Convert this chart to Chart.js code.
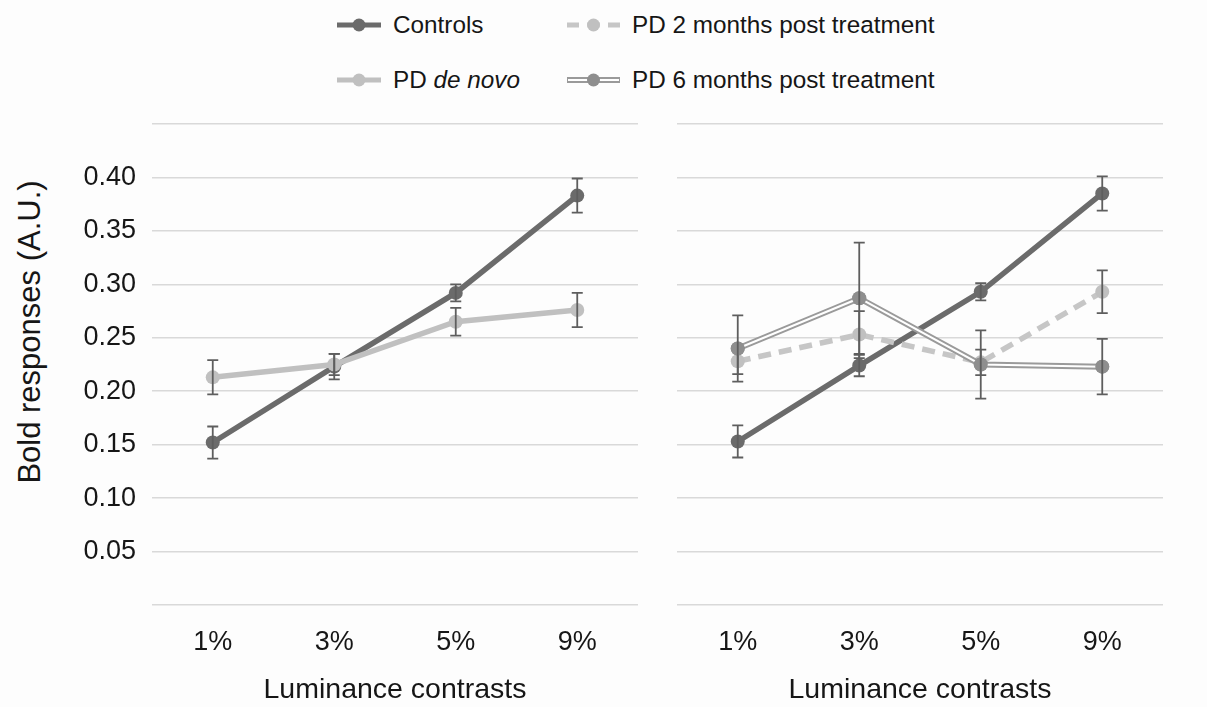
<!DOCTYPE html>
<html>
<head>
<meta charset="utf-8">
<script src="https://cdn.jsdelivr.net/npm/chart.js@4.4.0/dist/chart.umd.min.js"></script>
<style>
  html, body { margin: 0; padding: 0; background: #fdfdfd; }
  body { width: 1207px; height: 707px; position: relative; overflow: hidden;
         font-family: "Liberation Sans", Arial, sans-serif; color: #161616; }
  .box { position: absolute; }
  .legend-item { position: absolute; height: 30px; display: flex; align-items: center; font-size: 24.3px; white-space: nowrap; }
  .legend-item svg { display: block; }
  #ytitle { position: absolute; left: 30px; top: 332px; transform: translate(-50%, -50%) rotate(-90deg);
            font-size: 31px; white-space: nowrap; }
</style>
</head>
<body>

<div class="legend-item" style="left:337px; top:10px;">
  <svg width="44" height="16"><line x1="0" y1="8" x2="44" y2="8" stroke="#6b6b6b" stroke-width="5"/><circle cx="22" cy="8" r="6.5" fill="#6b6b6b"/></svg>
  <span style="margin-left:12px;">Controls</span>
</div>
<div class="legend-item" style="left:337px; top:65px;">
  <svg width="44" height="16"><line x1="0" y1="8" x2="44" y2="8" stroke="#c0c0c0" stroke-width="5"/><circle cx="22" cy="8" r="6.5" fill="#c0c0c0"/></svg>
  <span style="margin-left:12px;">PD <i>de novo</i></span>
</div>
<div class="legend-item" style="left:567px; top:10px;">
  <svg width="53" height="16"><line x1="0" y1="8" x2="53" y2="8" stroke="#c6c6c6" stroke-width="5" stroke-dasharray="12 8.5"/><circle cx="26.5" cy="8" r="6.5" fill="#c0c0c0"/></svg>
  <span style="margin-left:12px;">PD 2 months post treatment</span>
</div>
<div class="legend-item" style="left:567px; top:65px;">
  <svg width="53" height="16"><line x1="0" y1="8" x2="53" y2="8" stroke="#9a9a9a" stroke-width="6"/><line x1="1" y1="8" x2="52" y2="8" stroke="#ffffff" stroke-width="2"/><circle cx="26.5" cy="8" r="6.5" fill="#8e8e8e"/></svg>
  <span style="margin-left:12px;">PD 6 months post treatment</span>
</div>

<div id="ytitle">Bold responses (A.U.)</div>

<div class="box" style="left:0; top:100px; width:645px; height:607px;"><canvas id="left"></canvas></div>
<div class="box" style="left:645px; top:100px; width:562px; height:607px;"><canvas id="right"></canvas></div>

<script>
const categories = ['1%', '3%', '5%', '9%'];
const yTicks = [0.05, 0.10, 0.15, 0.20, 0.25, 0.30, 0.35, 0.40];

// left panel
const controlsLeft = [0.152, 0.223, 0.292, 0.383];
const controlsLeftErr = [0.015, 0.012, 0.008, 0.016];
const deNovo = [0.213, 0.225, 0.265, 0.276];
const deNovoErr = [0.016, 0.010, 0.013, 0.016];

// right panel
const controlsRight = [0.153, 0.224, 0.293, 0.385];
const controlsRightErr = [0.015, 0.010, 0.008, 0.016];
const pd2Months = [0.228, 0.253, 0.227, 0.293];
const pd2MonthsErr = [0.012, 0.022, 0.012, 0.020];
const pd6Months = [0.240, 0.287, 0.225, 0.223];
const pd6MonthsErr = [0.031, 0.052, 0.032, 0.026];

const FONT = '"Liberation Sans", Arial, sans-serif';
const TEXT = '#161616';
const DARK = '#6b6b6b';
const LIGHT = '#c0c0c0';
const MID = '#9a9a9a';

// error bars + redraw points that must sit on top of the white inner line
const ErrorBars = {
  id: 'errorBars',
  afterDatasetsDraw(chart) {
    const { ctx } = chart;
    const yScale = chart.scales.y;
    chart.data.datasets.forEach((ds, di) => {
      const meta = chart.getDatasetMeta(di);
      if (ds.redrawPoints) meta.data.forEach((pt) => pt.draw(ctx, chart.chartArea));
      if (!ds.errors) return;
      ctx.save();
      ctx.strokeStyle = '#5e5e5e';
      ctx.lineWidth = 1.8;
      meta.data.forEach((pt, i) => {
        const v = ds.data[i];
        const e = ds.errors[i];
        const top = yScale.getPixelForValue(v + e);
        const bot = yScale.getPixelForValue(v - e);
        ctx.beginPath();
        ctx.moveTo(pt.x, top); ctx.lineTo(pt.x, bot);
        ctx.moveTo(pt.x - 5.5, top); ctx.lineTo(pt.x + 5.5, top);
        ctx.moveTo(pt.x - 5.5, bot); ctx.lineTo(pt.x + 5.5, bot);
        ctx.stroke();
      });
      ctx.restore();
    });
  },
};

function series(data, errors, color, extra) {
  return Object.assign({
    data, errors,
    borderColor: color,
    backgroundColor: color,
    pointBackgroundColor: color,
    pointBorderWidth: 0,
    borderWidth: 5.5,
    pointRadius: 7,
    tension: 0,
  }, extra || {});
}

function makeOptions(showLabels, yWidth, rightPad) {
  return {
    responsive: true,
    maintainAspectRatio: false,
    animation: false,
    layout: { padding: { top: 24, right: rightPad, left: 0, bottom: 0 } },
    plugins: { legend: { display: false }, tooltip: { enabled: false } },
    scales: {
      x: {
        type: 'category',
        offset: true,
        grid: { display: false, drawTicks: false },
        border: { display: false },
        ticks: { font: { family: FONT, size: 27 }, color: TEXT, padding: 21 },
        title: { display: true, text: 'Luminance contrasts', color: TEXT,
                 font: { family: FONT, size: 28.5 }, padding: { top: 0, bottom: 0 } },
        afterFit(s) { s.height = 102; s.paddingLeft = 0; s.paddingRight = 0; },
      },
      y: {
        min: 0,
        max: 0.45,
        afterBuildTicks(s) {
          s.ticks = [0].concat(yTicks, [0.45]).map((v) => ({ value: v }));
        },
        ticks: {
          display: showLabels,
          font: { family: FONT, size: 27 },
          color: TEXT,
          padding: 16,
          callback: (v) => (yTicks.some((t) => Math.abs(t - v) < 1e-6) ? v.toFixed(2) : ''),
        },
        grid: { color: '#d9d9d9', lineWidth: 1.6, drawTicks: false },
        border: { display: false },
        afterFit(s) { s.width = yWidth; s.paddingTop = 0; s.paddingBottom = 0; },
      },
    },
  };
}

new Chart(document.getElementById('left'), {
  type: 'line',
  data: {
    labels: categories,
    datasets: [
      series(deNovo, deNovoErr, LIGHT),
      series(controlsLeft, controlsLeftErr, DARK),
    ],
  },
  options: makeOptions(true, 152, 7),
  plugins: [ErrorBars],
});

// lower "order" is drawn on top
new Chart(document.getElementById('right'), {
  type: 'line',
  data: {
    labels: categories,
    datasets: [
      series(controlsRight, controlsRightErr, DARK, { order: 3 }),
      series(pd2Months, pd2MonthsErr, '#c6c6c6', { borderDash: [13, 8], pointBackgroundColor: LIGHT, order: 2 }),
      series(pd6Months, pd6MonthsErr, MID, { borderWidth: 6, pointBackgroundColor: '#8e8e8e', redrawPoints: true, order: 1 }),
      series(pd6Months, null, '#ffffff', { borderWidth: 2, pointRadius: 0, order: 0 }),
    ],
  },
  options: makeOptions(false, 32, 44),
  plugins: [ErrorBars],
});
</script>
</body>
</html>
